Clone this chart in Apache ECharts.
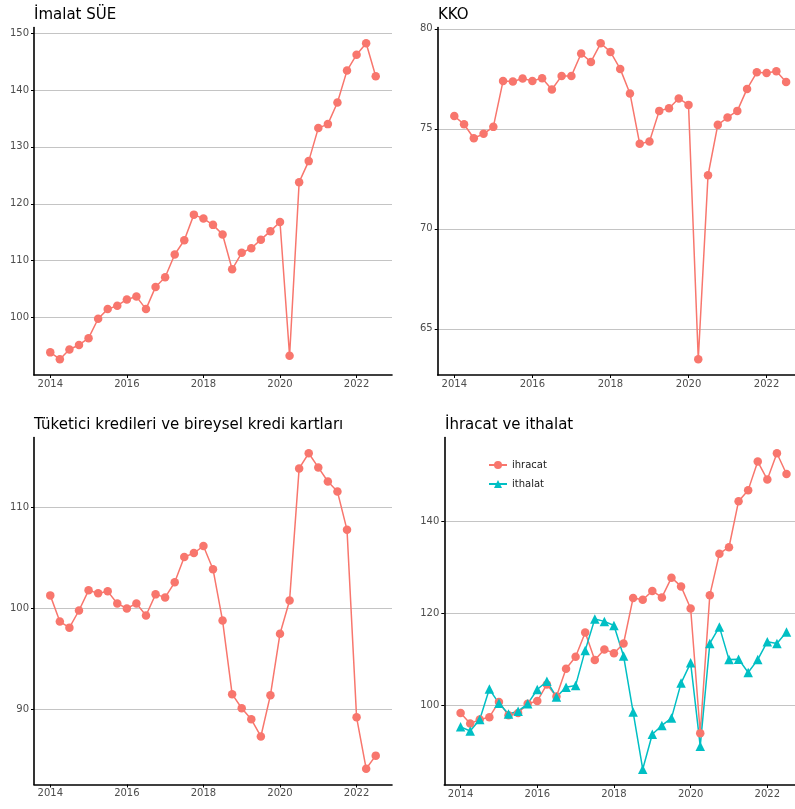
<!DOCTYPE html>
<html><head><meta charset="utf-8">
<script src="https://cdn.jsdelivr.net/npm/echarts@6/dist/echarts.min.js"></script>
<style>html,body{margin:0;padding:0;background:#fff}#c{width:795px;height:809px}</style>
</head><body><div id="c"></div>
<script>
const quarters = [2014.00, 2014.25, 2014.50, 2014.75, 2015.00, 2015.25, 2015.50, 2015.75,
  2016.00, 2016.25, 2016.50, 2016.75, 2017.00, 2017.25, 2017.50, 2017.75,
  2018.00, 2018.25, 2018.50, 2018.75, 2019.00, 2019.25, 2019.50, 2019.75,
  2020.00, 2020.25, 2020.50, 2020.75, 2021.00, 2021.25, 2021.50, 2021.75,
  2022.00, 2022.25, 2022.50];
const imalat = [93.9, 92.7, 94.4, 95.2, 96.4, 99.8, 101.5, 102.1, 103.2, 103.7, 101.5, 105.4,
  107.1, 111.1, 113.6, 118.1, 117.4, 116.3, 114.6, 108.5, 111.4, 112.2, 113.7, 115.2,
  116.8, 93.3, 123.8, 127.5, 133.3, 134.0, 137.8, 143.4, 146.2, 148.2, 142.4];
const kko = [75.64, 75.23, 74.53, 74.75, 75.10, 77.40, 77.37, 77.52, 77.40, 77.53, 76.97, 77.65,
  77.65, 78.77, 78.35, 79.28, 78.85, 78.00, 76.77, 74.25, 74.37, 75.90, 76.03, 76.52,
  76.20, 63.48, 72.68, 75.20, 75.57, 75.90, 77.00, 77.83, 77.80, 77.88, 77.35];
const tuketici = [101.3, 98.7, 98.1, 99.8, 101.8, 101.5, 101.7, 100.5, 100.0, 100.5, 99.3, 101.4,
  101.1, 102.6, 105.1, 105.5, 106.2, 103.9, 98.8, 91.5, 90.1, 89.0, 87.3, 91.4,
  97.5, 100.8, 113.9, 115.4, 114.0, 112.6, 111.6, 107.8, 89.2, 84.1, 85.4];
const ihracat = [98.4, 96.1, 97.0, 97.5, 100.8, 97.9, 98.4, 100.4, 101.0, 104.6, 102.0, 108.0,
  110.6, 115.9, 109.9, 112.2, 111.4, 113.5, 123.4, 123.0, 124.9, 123.5, 127.8, 125.9,
  121.1, 94.0, 124.0, 133.0, 134.4, 144.4, 146.8, 153.0, 149.1, 154.8, 150.3];
const ithalat = [95.4, 94.5, 97.0, 103.6, 100.5, 98.2, 98.8, 100.4, 103.5, 105.3, 101.9, 104.0,
  104.4, 112.0, 118.8, 118.3, 117.4, 110.8, 98.6, 86.2, 93.8, 95.7, 97.3, 104.9,
  109.3, 91.2, 113.5, 117.1, 110.0, 110.1, 107.2, 110.0, 113.9, 113.5, 116.0];
const titles = ['İmalat SÜE', 'KKO', 'Tüketici kredileri ve bireysel kredi kartları', 'İhracat ve ithalat'];
const seriesNames = ['ihracat', 'ithalat'];
const xTicks = [2014, 2016, 2018, 2020, 2022];
const yTicks1 = [100, 110, 120, 130, 140, 150];
const yTicks2 = [65, 70, 75, 80];
const yTicks3 = [90, 100, 110];
const yTicks4 = [100, 120, 140];

const RED = '#F8766D', TEAL = '#00BFC4';
const FONT = 'DejaVu Sans';
const pts = arr => quarters.map((q, i) => [q, arr[i]]);
function ext(arrs) {
  const all = [].concat(...arrs);
  const lo = Math.min(...all), hi = Math.max(...all), p = (hi - lo) * 0.05;
  return [lo - p, hi + p];
}
const xr = ext([quarters]);
function xAxisCfg(gi) {
  return {
    type: 'value', gridIndex: gi, min: xr[0], max: xr[1],
    axisLine: { show: true, onZero: false, lineStyle: { color: '#000', width: 1.6 } },
    axisTick: { show: true, length: 3, customValues: xTicks, lineStyle: { color: '#000', width: 1 } },
    axisLabel: { customValues: xTicks, formatter: v => String(v), color: '#4d4d4d', fontSize: 10, fontFamily: FONT, margin: 4 },
    splitLine: { show: false }
  };
}
function yAxisCfg(gi, arrs, ticks) {
  const r = ext(arrs);
  return {
    type: 'value', gridIndex: gi, min: r[0], max: r[1],
    axisLine: { show: true, onZero: false, lineStyle: { color: '#000', width: 1.6 } },
    axisTick: { show: true, length: 3, customValues: ticks, lineStyle: { color: '#000', width: 1 } },
    axisLabel: { customValues: ticks, formatter: v => String(v), color: '#4d4d4d', fontSize: 10, fontFamily: FONT, margin: 5 },
    splitLine: { show: true, lineStyle: { color: '#c4c4c4', width: 1 } }
  };
}
function lineSeries(name, arr, gi, color, symbol, size) {
  return {
    name: name, type: 'line', xAxisIndex: gi, yAxisIndex: gi, data: pts(arr),
    symbol: symbol, symbolSize: size, showSymbol: true,
    lineStyle: { color: color, width: 1.5 }, itemStyle: { color: color },
    emphasis: { disabled: true }, animation: false
  };
}
const titleStyle = { fontSize: 15, fontWeight: 'normal', color: '#000', fontFamily: FONT };
const option = {
  backgroundColor: '#fff',
  animation: false,
  title: [
    { text: titles[0], left: 34, top: 8, padding: 0, textStyle: titleStyle },
    { text: titles[1], left: 438, top: 8, padding: 0, textStyle: titleStyle },
    { text: titles[2], left: 34, top: 418, padding: 0, textStyle: titleStyle },
    { text: titles[3], left: 445, top: 418, padding: 0, textStyle: titleStyle }
  ],
  grid: [
    { left: 34, top: 27.5, width: 358, height: 347.5, containLabel: false, outerBoundsMode: 'none' },
    { left: 437.7, top: 27.5, width: 365, height: 347.5, containLabel: false, outerBoundsMode: 'none' },
    { left: 34, top: 437.5, width: 358, height: 347, containLabel: false, outerBoundsMode: 'none' },
    { left: 444.3, top: 437.5, width: 358.5, height: 347.5, containLabel: false, outerBoundsMode: 'none' }
  ],
  xAxis: [xAxisCfg(0), xAxisCfg(1), xAxisCfg(2), xAxisCfg(3)],
  yAxis: [
    yAxisCfg(0, [imalat], yTicks1),
    yAxisCfg(1, [kko], yTicks2),
    yAxisCfg(2, [tuketici], yTicks3),
    yAxisCfg(3, [ihracat, ithalat], yTicks4)
  ],
  legend: {
    data: seriesNames, orient: 'vertical', left: 488, top: 460, padding: 0,
    itemWidth: 18, itemHeight: 10, itemGap: 9,
    textStyle: { fontSize: 10, color: '#1a1a1a', fontFamily: FONT },
    selectedMode: false
  },
  series: [
    lineSeries('imalat', imalat, 0, RED, 'circle', 8.5),
    lineSeries('kko', kko, 1, RED, 'circle', 8.5),
    lineSeries('tuketici', tuketici, 2, RED, 'circle', 8.5),
    lineSeries(seriesNames[0], ihracat, 3, RED, 'circle', 8.5),
    lineSeries(seriesNames[1], ithalat, 3, TEAL, 'triangle', 9.5)
  ]
};
const chart = echarts.init(document.getElementById('c'), null, { renderer: 'canvas' });
chart.setOption(option);
</script></body></html>
